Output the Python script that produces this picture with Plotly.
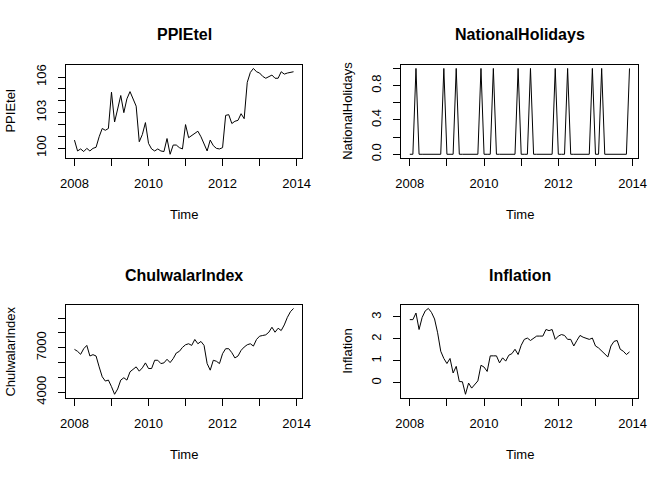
import plotly.graph_objects as go

# monthly series, Jan 2008 - Dec 2013
start_year = 2008

ppietel = [100.67, 99.75, 99.92, 99.70, 99.97, 99.75, 99.97, 100.06, 100.95, 101.65, 101.50, 101.65,
           104.72, 102.20, 103.30, 104.44, 102.99, 104.16, 104.77, 104.16, 103.54, 100.53, 101.14, 102.15,
           100.39, 99.92, 99.75, 99.92, 99.75, 99.70, 100.80, 99.47, 100.25, 100.25, 100.03, 99.92,
           101.98, 100.87, 101.03, 101.23, 101.42, 100.95, 100.39, 99.75, 100.67, 100.20, 99.97, 99.92,
           100.03, 102.76, 102.82, 102.07, 102.26, 102.34, 102.90, 102.48, 105.55, 106.39, 106.73, 106.45,
           106.34, 106.06, 105.90, 106.06, 106.17, 105.90, 105.90, 106.45, 106.25, 106.34, 106.39, 106.45]

national_holidays = [0, 0, 1, 0, 0, 0, 0, 0, 0, 0, 0, 1,
                     0, 0, 0, 1, 0, 0, 0, 0, 0, 0, 0, 1,
                     0, 0, 0, 1, 0, 0, 0, 0, 0, 0, 0, 1,
                     0, 0, 0, 1, 0, 0, 0, 0, 0, 0, 0, 1,
                     0, 0, 0, 1, 0, 0, 0, 0, 0, 0, 0, 1,
                     0, 0, 1, 0, 0, 0, 0, 0, 0, 0, 0, 1]

chulwalar_index = [6889, 6756, 6556, 6933, 7156, 6444, 6533, 6444, 5711, 5044, 4756, 4822,
                   4378, 3867, 4222, 4822, 4978, 4822, 5378, 5533, 5711, 5422, 5644, 5978,
                   5600, 5600, 6156, 6156, 5933, 5978, 6222, 6000, 6267, 6644, 6756, 7022,
                   7200, 7267, 7156, 7556, 7267, 7422, 7156, 5933, 5489, 6156, 6089, 5933,
                   6600, 6933, 6933, 6667, 6311, 6444, 6822, 7044, 7200, 7267, 7111, 7556,
                   7778, 7822, 7867, 8044, 8378, 8044, 8311, 8156, 8533, 9044, 9422, 9644]

inflation = [2.88, 2.88, 3.18, 2.43, 2.98, 3.28, 3.39, 3.21, 2.91, 2.28, 1.44, 1.11,
             0.88, 1.11, 0.45, 0.75, 0.06, 0.05, -0.52, -0.01, -0.24, -0.09, 0.09, 0.80,
             0.72, 0.52, 1.23, 1.23, 1.23, 0.91, 1.14, 0.99, 1.26, 1.33, 1.53, 1.29,
             1.71, 1.98, 2.04, 1.93, 2.04, 2.13, 2.13, 2.13, 2.43, 2.38, 2.43, 1.98,
             2.13, 2.20, 2.16, 1.98, 1.98, 1.68, 1.93, 2.16, 2.08, 2.04, 1.98, 2.04,
             1.68, 1.59, 1.44, 1.33, 1.18, 1.68, 1.89, 1.93, 1.53, 1.44, 1.29, 1.41]

year_ticks = [2008, 2009, 2010, 2011, 2012, 2013, 2014]
year_labels = ["2008", "", "2010", "", "2012", "", "2014"]

time = [start_year + i / 12 for i in range(len(ppietel))]

panels = [
    ("PPIEtel", ppietel, [100, 101, 102, 103, 104, 105, 106],
     ["100", "", "", "103", "", "", "106"]),
    ("NationalHolidays", national_holidays, [0, 0.2, 0.4, 0.6, 0.8, 1.0],
     ["0.0", "", "0.4", "", "0.8", ""]),
    ("ChulwalarIndex", chulwalar_index, [4000, 5000, 6000, 7000, 8000, 9000],
     ["4000", "", "", "7000", "", ""]),
    ("Inflation", inflation, [0, 1, 2, 3], ["0", "1", "2", "3"]),
]

W, H = 672, 480
# plot boxes in pixels (left, right, top, bottom)
boxes = [(65.7, 302.3, 65, 157.7), (401, 638.3, 65, 157.7),
         (65.7, 302.3, 305, 397.7), (401, 638.3, 305, 397.7)]
ylab_shift = [-55.5, -53.5, -55.5, -53.5]


def ext(vals):
    lo, hi = min(vals), max(vals)
    d = (hi - lo) * 0.04
    return [lo - d, hi + d]


font = "Liberation Sans, Arial, sans-serif"
fig = go.Figure()
annotations = []
layout = {}

for i, (name, vals, tv, tt) in enumerate(panels):
    n = "" if i == 0 else str(i + 1)
    fig.add_trace(go.Scatter(x=time, y=vals, mode="lines",
                             line=dict(color="black", width=1),
                             xaxis="x" + n, yaxis="y" + n, showlegend=False))
    l, r, t, b = boxes[i]
    common = dict(showline=True, linecolor="black", linewidth=1, mirror=True,
                  ticks="outside", ticklen=7, tickcolor="black", tickwidth=1,
                  showgrid=False, zeroline=False, automargin=False,
                  tickfont=dict(family=font, size=13, color="black"))
    layout["xaxis" + n] = dict(domain=[l / W, r / W], range=ext(time), anchor="y" + n,
                               tickmode="array", tickvals=year_ticks, ticktext=year_labels,
                               ticklabelstandoff=7, **common)
    layout["yaxis" + n] = dict(domain=[1 - b / H, 1 - t / H], range=ext(vals), anchor="x" + n,
                               tickmode="array", tickvals=tv, ticktext=tt, tickangle=-90,
                               ticklabelstandoff=7, **common)
    xd, yd = "x" + n + " domain", "y" + n + " domain"
    annotations.append(dict(text="<b>" + name + "</b>", xref=xd, yref=yd, x=0.5, y=1,
                            yshift=30, showarrow=False, yanchor="middle",
                            font=dict(family=font, size=16, color="black")))
    annotations.append(dict(text="Time", xref=xd, yref=yd, x=0.5, y=0,
                            yshift=-57, showarrow=False, yanchor="middle",
                            font=dict(family=font, size=13, color="black")))
    annotations.append(dict(text=name, xref=xd, yref=yd, x=0, y=0.5, textangle=-90,
                            xshift=ylab_shift[i], showarrow=False, xanchor="center",
                            font=dict(family=font, size=13, color="black")))

fig.update_layout(width=W, height=H,
                  margin=dict(l=0, r=0, t=0, b=0, pad=0, autoexpand=False),
                  paper_bgcolor="white", plot_bgcolor="white",
                  annotations=annotations, **layout)

# drop the browser's default body margin so the figure fills the window
fig.write_html("out.html", config={"displayModeBar": False},
               post_script="document.body.style.margin = '0';")
